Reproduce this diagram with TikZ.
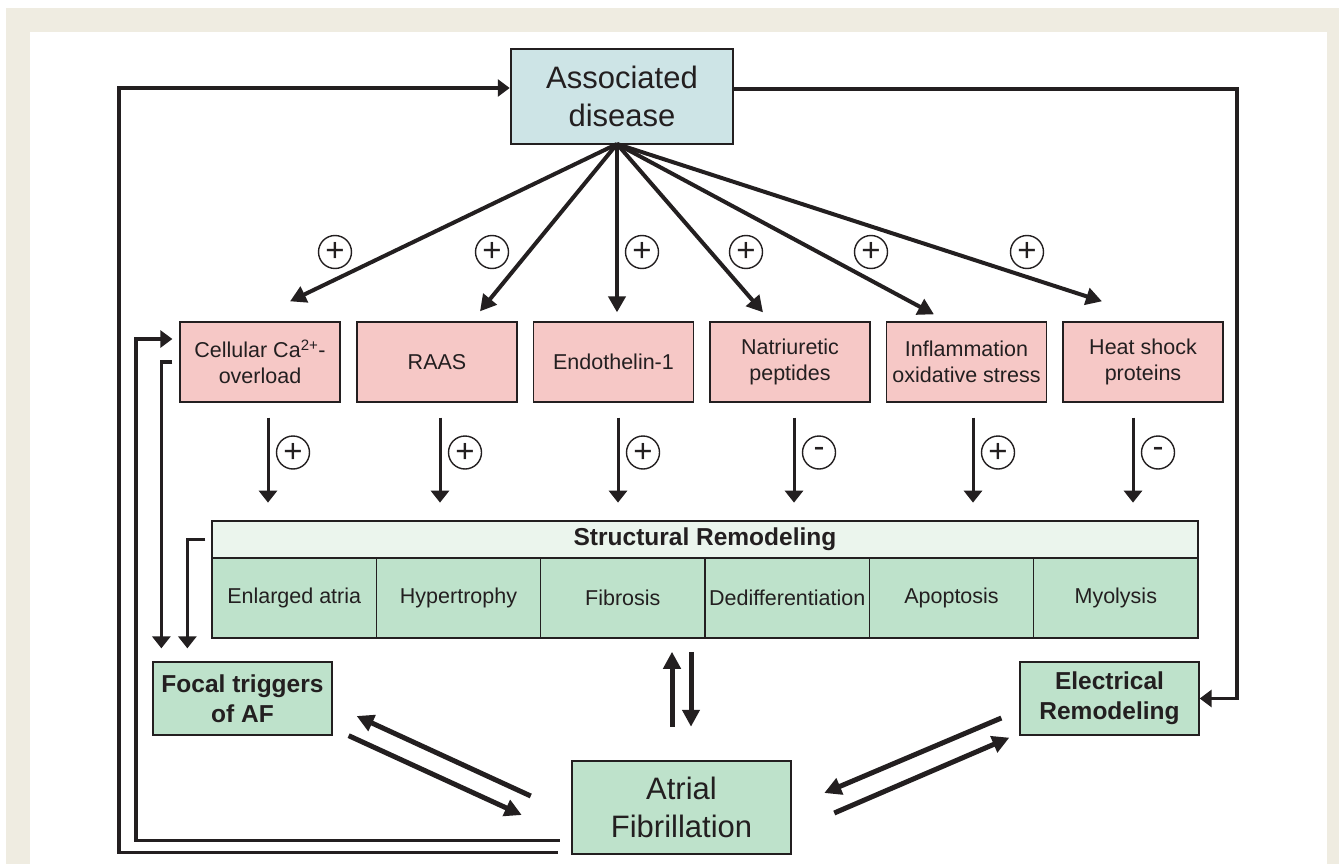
\documentclass[tikz,border=0pt]{standalone}
\usepackage{fontspec}
\setmainfont{Liberation Sans}
\usetikzlibrary{arrows.meta,positioning}
\definecolor{beige}{RGB}{239,236,225}
\definecolor{ink}{RGB}{35,31,32}
\definecolor{adblue}{RGB}{205,228,230}
\definecolor{pinkc}{RGB}{246,200,198}
\definecolor{cellg}{RGB}{190,226,203}
\definecolor{headg}{RGB}{235,245,237}
\newcommand{\labfont}{\fontsize{21.5}{26}\selectfont}
\newcommand{\boldlab}{\fontsize{24.5}{30}\selectfont\bfseries}
\newcommand{\bigfont}{\fontsize{31}{38}\selectfont}

\begin{document}
\begin{tikzpicture}[x=1pt,y=-1pt,
    box/.style={draw=ink, line width=1.3pt, align=center, inner sep=0pt, text=ink},
    pinkbox/.style={box, fill=pinkc, minimum width=160pt, minimum height=80pt, font=\labfont},
    cellbox/.style={box, fill=cellg, minimum width=164.3pt, minimum height=80pt, font=\labfont},
    greenbox/.style={box, fill=cellg, minimum width=179pt, minimum height=73pt, font=\boldlab},
    bigbox/.style={box, line width=2.5pt, font=\bigfont},
    sign/.style={circle, draw=ink, line width=1.4pt, minimum size=33pt, inner sep=0pt, font=\fontsize{33}{33}\selectfont, text=ink},
    arr/.style={-{Triangle[length=12pt,width=18pt]}, line width=3pt, draw=ink},
    fanarr/.style={-{Triangle[length=16pt,width=17pt]}, line width=4pt, draw=ink},
    lp/.style={-{Triangle[length=12pt,width=17pt]}, line width=3.5pt, draw=ink},
    dbl/.style={-{Triangle[length=17pt,width=17pt]}, line width=5pt, draw=ink}
  ]
  \useasboundingbox (0,0) rectangle (1339,864);
  \fill[white] (0,0) rectangle (1339,864);
  \fill[beige] (6,8) rectangle (1339,864);
  \fill[white] (30,32) rectangle (1327,864);

  % top and middle rows
  \node[bigbox, fill=adblue, minimum width=222pt, minimum height=95pt] (AD) at (622,96.5) {Associated\\disease};
  \foreach \n/\x/\t in {ca/260/{Cellular Ca\textsuperscript{2+}-\\overload}, raas/437/RAAS,
      et/613.5/Endothelin-1, np/790/{Natriuretic\\peptides},
      inf/966.5/{Inflammation\\oxidative stress}, hsp/1143/{Heat shock\\proteins}}
    \node[pinkbox] (\n) at (\x,362) {\t};

  \node[box, fill=headg, minimum width=986pt, minimum height=37pt, font=\boldlab] (SR) at (705,539.5) {Structural Remodeling};
  \foreach \n/\x/\t in {c1/294.2/Enlarged atria, c2/458.5/Hypertrophy, c3/622.8/Fibrosis,
      c4/787.2/Dedifferentiation, c5/951.5/Apoptosis, c6/1115.8/Myolysis}
    \node[cellbox] (\n) at (\x,598) {\t};

  % bottom row
  \node[greenbox] (FT) at (242.5,698.5) {Focal triggers\\of AF};
  \node[greenbox] (ER) at (1109.5,698.5) {Electrical\\Remodeling};
  \node[bigbox, fill=cellg, minimum width=219pt, minimum height=93pt] (AF) at (681.5,807.5) {Atrial\\Fibrillation};

  % fan from associated disease
  \coordinate (fan) at (617,144);
  \foreach \n/\dx/\dy in {ca/30/-20, raas/43/-10, et/3.5/-9, np/-27/-9, inf/-32.5/-7, hsp/-41/-20}
    \draw[fanarr] (fan) -- ([shift={(\dx,\dy)}]\n.north);
  \foreach \x [count=\i] in {335,492,642,746,871,1027}
    \node[sign] (s\i) at (\x,252) {+};

  % effects on structural remodeling
  \foreach \n/\dx/\sg in {ca/8/+, raas/3/+, et/4.5/+, np/4/-, inf/6.5/+, hsp/-10/-}
    \draw[arr] ([shift={(\dx,15)}]\n.south) -- ++(0,85)
      node[sign, pos=0.41, xshift=25pt] {\sg};

  % feedback loops
  \coordinate (outL) at (119,88);
  \coordinate (inL) at (136,339);
  \coordinate (outR) at (1237,89);
  \draw[lp] ([shift={(-13,-3)}]AF.south west) -| (outL) -- (outL -| AD.west);
  \draw[lp, shorten >=7pt] ([shift={(-11,-15)}]AF.south west) -| (inL) -- (inL -| ca.west);
  \draw[lp] (outR -| AD.east) -- (outR) |- (ER.east);

  \draw[arr, line width=3.5pt, shorten >=13pt] ([xshift=-7pt]ca.west) -- ++(-11,0) coordinate (b1) -- (b1 |- FT.north);
  \draw[arr, line width=3.5pt, shorten >=13pt] ([xshift=-6pt]SR.west) -- ++(-18,0) coordinate (b2) -- (b2 |- FT.north);

  % two-way arrows round atrial fibrillation
  \draw[dbl] ([shift={(-40,-11.5)}]AF.west) -- ([shift={(24,17.5)}]FT.east);
  \draw[dbl] ([shift={(16,0)}]FT.south east) -- ([shift={(-49,7.5)}]AF.west);
  \draw[dbl] ([shift={(-18,19.5)}]ER.west) -- ([shift={(32,-14.5)}]AF.east);
  \draw[dbl] ([shift={(42,5.5)}]AF.east) -- ([shift={(-10,2)}]ER.south west);
  \draw[dbl] ([shift={(-9.5,-33)}]AF.north) -- ([shift={(-9.5,-108)}]AF.north);
  \draw[dbl] ([shift={(9.5,-108)}]AF.north) -- ([shift={(9.5,-33)}]AF.north);
\end{tikzpicture}
\end{document}
